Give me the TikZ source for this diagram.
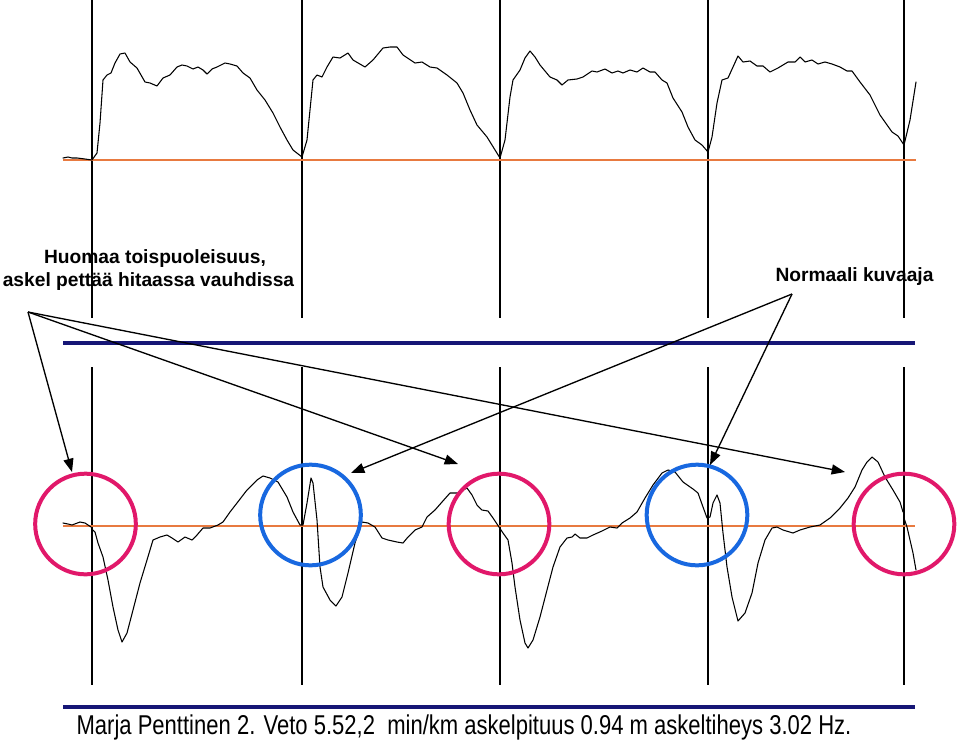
\documentclass[tikz,border=0pt]{standalone}
\usepackage{fontspec}
\setmainfont{Liberation Sans}
\usetikzlibrary{arrows.meta}
\definecolor{pinkc}{RGB}{225,24,106}
\definecolor{bluec}{RGB}{24,104,224}
\definecolor{navyc}{RGB}{22,22,118}
\definecolor{orangec}{RGB}{232,122,64}
\begin{document}
\begin{tikzpicture}[x=0.75pt,y=-0.75pt,
  vline/.style={black,line width=0.9pt},
  baseline/.style={orangec,line width=1pt},
  sepline/.style={navyc,line width=2.3pt},
  trace/.style={black,line width=0.8pt,line join=round,line cap=round},
  ring/.style={circle,draw,line width=3pt,minimum size=75.5pt,inner sep=0pt},
  pointer/.style={-{Triangle[length=10pt,width=7.5pt]},line width=1pt,black},
  lbl/.style={font=\fontsize{14.4}{17}\selectfont\bfseries,inner sep=0pt,anchor=base}
]
\useasboundingbox[fill=white] (0,0) rectangle (960,740);

% ---------- top panel ----------
\foreach \x in {92,302,500,708,904}{\draw[vline] (\x,0) -- (\x,318);}
\draw[baseline] (63,160) -- (916,160);
\draw[trace] plot coordinates {(63,158)(68,157)(72,158)(77,158)(85,159)(92,160)(97,153)(100,123)(103,80)(107,75)(111,73)(115,63)(120,54)(125,53)(130,62)(137,68)(145,82)(150,83)(157,86)(163,78)(170,75)(177,67)(182,65)(187,66)(193,69)(198,67)(203,70)(207,74)(212,69)(217,67)(225,63)(230,64)(237,66)(243,73)(250,78)(257,90)(265,100)(273,113)(280,127)(287,140)(293,150)(302,157)(307,140)(310,110)(313,80)(317,75)(322,77)(327,67)(333,57)(340,58)(348,53)(353,60)(365,67)(373,60)(383,48)(390,47)(397,47)(403,55)(415,63)(422,62)(430,67)(437,68)(447,75)(457,83)(463,93)(470,110)(477,125)(487,137)(500,158)(505,140)(510,97)(513,80)(520,70)(525,58)(530,51)(535,57)(540,65)(550,77)(557,80)(562,85)(568,80)(577,79)(583,77)(592,71)(597,72)(605,69)(612,73)(618,71)(623,73)(630,70)(637,72)(643,68)(650,72)(655,72)(662,80)(667,83)(673,98)(682,112)(688,127)(695,140)(702,145)(708,152)(712,137)(717,103)(722,80)(728,78)(733,67)(738,56)(743,62)(750,61)(757,66)(763,66)(770,72)(778,68)(788,62)(795,62)(800,57)(805,62)(812,60)(818,64)(825,62)(832,64)(840,67)(847,71)(852,71)(860,82)(870,95)(880,115)(892,132)(898,136)(904,145)(910,120)(916,82)};

% ---------- separator ----------
\draw[sepline] (63,343) -- (915,343);

% ---------- bottom panel ----------
\foreach \x in {92,302,500,708,904}{\draw[vline] (\x,367) -- (\x,685);}
\draw[baseline] (63,526) -- (915,526);
\draw[trace] plot coordinates {(63,523)(68,524)(72,525)(80,522)(85,523)(91,527)};
\draw[trace] plot coordinates {(93,530)(95,532)(98,543)(103,557)(108,580)(113,607)(118,630)(122,642)(127,633)(133,610)(140,583)(147,560)(153,540)(160,537)(167,535)(172,538)(178,542)(185,537)(192,540)(197,535)(203,528)(210,528)(218,525)(223,522)(230,512)(237,503)(247,490)(257,480)(263,476)(270,478)(278,482)(287,497)(293,512)(300,525)(303,525)(307,503)(311,478)(313,483)(317,520)(320,567)(323,587)(330,600)(336,606)(342,597)(348,573)(355,543)(362,522)(368,523)(375,527)(382,538)(388,540)(397,542)(403,543)(408,537)(415,530)(422,527)(427,517)(435,510)(442,502)(450,493)(458,493)(467,488)(472,495)(477,505)(482,510)(488,511)(493,518)(499,527)(503,533)(508,540)(512,563)(515,587)(520,620)(525,643)(528,648)(533,640)(540,617)(547,590)(553,567)(560,547)(567,538)(572,537)(575,534)(580,538)(587,538)(593,535)(602,531)(610,527)(617,528)(622,523)(630,518)(637,512)(645,498)(653,485)(662,473)(668,470)(675,472)(683,482)(693,489)(698,493)(703,507)(707,518)(710,517)(713,503)(717,495)(720,503)(723,533)(727,567)(732,597)(738,621)(745,613)(752,593)(758,563)(765,540)(772,528)(777,527)(783,530)(793,533)(800,530)(810,527)(820,525)(830,518)(840,508)(848,498)(855,487)(862,470)(867,462)(872,457)(878,462)(885,477)(893,490)(900,502)(903,512)};
\draw[trace] plot coordinates {(904,518)(907,527)(910,540)(913,553)(916,570)};

% ---------- rings ----------
\node[ring,draw=pinkc] (p1) at (85.5,524) {};
\node[ring,draw=bluec] (b1) at (310.5,515) {};
\node[ring,draw=pinkc] (p2) at (499,524) {};
\node[ring,draw=bluec] (b2) at (697,515) {};
\node[ring,draw=pinkc] (p3) at (904,524) {};

\draw[sepline] (63,707) -- (915,707);

% ---------- labels ----------
\node[lbl] (h1) at (155,263) {Huomaa toispuoleisuus,};
\node[lbl] (h2) at (148.5,286) {askel pettää hitaassa vauhdissa};
\node[lbl] (n1) at (854.5,281) {Normaali kuvaaja};
\node[inner sep=0pt,anchor=base] (cap) at (464,734)
  {\scalebox{0.81}[1]{\fontsize{20.4}{24}\selectfont Marja Penttinen 2. Veto 5.52,2\ \ min/km askelpituus 0.94 m askeltiheys 3.02 Hz.}};

% ---------- arrows ----------
\coordinate (srcL) at (28,312);
\coordinate (srcR) at (792,294);
\coordinate (tL1) at (72,472);
\coordinate (tL2) at (458,464);
\coordinate (tL3) at (845,472);
\coordinate (tR1) at (351,473);
\coordinate (tR2) at (710,465);
\draw[pointer] (srcL) -- (tL1);
\draw[pointer] (srcL) -- (tL2);
\draw[pointer] (srcL) -- (tL3);
\draw[pointer] (srcR) -- (tR1);
\draw[pointer] (srcR) -- (tR2);
\end{tikzpicture}
\end{document}
